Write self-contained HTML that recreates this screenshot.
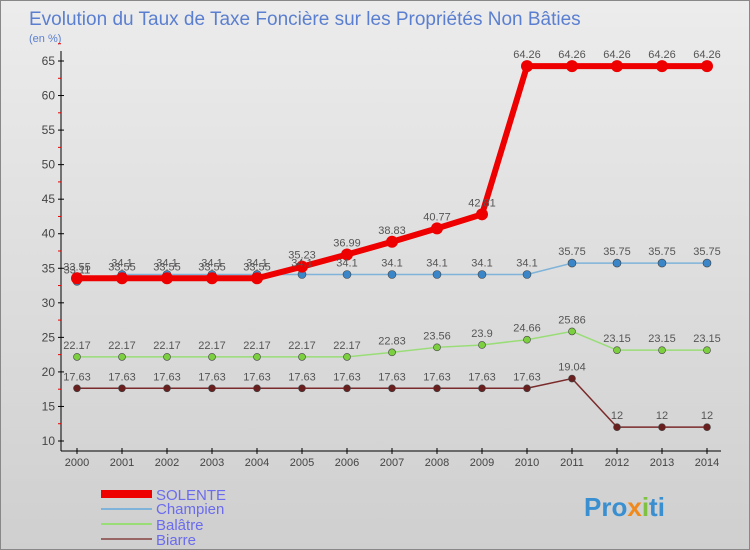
<!DOCTYPE html>
<html><head><meta charset="utf-8"><style>
body{margin:0}
#c{width:750px;height:550px;position:relative;overflow:hidden;background:linear-gradient(#ececec,#cfcfcf);font-family:"Liberation Sans","DejaVu Sans",sans-serif;border:1px solid #888;box-sizing:border-box}
</style></head><body>
<div id="c">
<svg id="s" width="750" height="550" xmlns="http://www.w3.org/2000/svg">
<text x="28" y="24" font-size="19" fill="#5b7fd0">Evolution du Taux de Taxe Foncière sur les Propriétés Non Bâties</text>
<text x="28" y="41" font-size="11" fill="#5b7fd0">(en %)</text>
<line x1="60" y1="50" x2="60" y2="450" stroke="#000"/>
<line x1="60" y1="450" x2="720" y2="450" stroke="#000"/>
<g id="ax"></g><g id="ln"></g><g id="lb"></g>
<g>
<rect x="100" y="489" width="51" height="8" fill="#e00"/>
<text x="155" y="499" font-size="15" fill="#6b6bee">SOLENTE</text>
<rect x="100" y="507" width="51" height="2" fill="#7fb3d9"/>
<text x="155" y="513" font-size="15" fill="#6b6bee">Champien</text>
<rect x="100" y="522" width="51" height="2" fill="#99dd77"/>
<text x="155" y="529" font-size="15" fill="#6b6bee">Balâtre</text>
<rect x="100" y="537" width="51" height="2" fill="#996666"/>
<text x="155" y="544" font-size="15" fill="#6b6bee">Biarre</text>
</g>
<text x="583" y="515" font-size="26" font-weight="bold" fill="#3a8fd0">Pro<tspan fill="#f08a1c">x</tspan><tspan fill="#7fc241">i</tspan>ti</text>
</svg></div>
<script>
const years=[2000,2001,2002,2003,2004,2005,2006,2007,2008,2009,2010,2011,2012,2013,2014];
const yTicks=[10,15,20,25,30,35,40,45,50,55,60,65];
const solente=[33.55,33.55,33.55,33.55,33.55,35.23,36.99,38.83,40.77,42.81,64.26,64.26,64.26,64.26,64.26];
const champien=[33.11,34.1,34.1,34.1,34.1,34.1,34.1,34.1,34.1,34.1,34.1,35.75,35.75,35.75,35.75];
const balatre=[22.17,22.17,22.17,22.17,22.17,22.17,22.17,22.83,23.56,23.9,24.66,25.86,23.15,23.15,23.15];
const biarre=[17.63,17.63,17.63,17.63,17.63,17.63,17.63,17.63,17.63,17.63,17.63,19.04,12,12,12];
const NS="http://www.w3.org/2000/svg";
const X=i=>76+i*45, Y=v=>440-(v-10)*380/55;
function mk(p,t,a){const e=document.createElementNS(NS,t);for(const k in a)e.setAttribute(k,a[k]);p.appendChild(e);return e;}
const ax=document.getElementById('ax'),ln=document.getElementById('ln'),lb=document.getElementById('lb');
yTicks.forEach(v=>{
 const t=mk(ax,'line',{x1:57,x2:63,y1:Y(v),y2:Y(v),stroke:'#000'});
 
 
 const m=mk(ax,'line',{x1:57,x2:60,y1:Y(v+2.5),y2:Y(v+2.5),stroke:'#e00'});
 
 
 const l=mk(ax,'text',{x:54,y:Y(v)+4,'text-anchor':'end','font-size':12,fill:'#444'});l.textContent=v;
 
 
});
years.forEach((y,i)=>{
 const t=mk(ax,'line',{x1:X(i),x2:X(i),y1:447,y2:453,stroke:'#000'});
 
 
 const l=mk(ax,'text',{x:X(i),y:465,'text-anchor':'middle','font-size':11,fill:'#444'});l.textContent=y;
 
 
});
function series(name,d,col,w,r,dot){
 const p=mk(ln,'polyline',{points:d.map((v,i)=>X(i)+','+Y(v)).join(' '),fill:'none',stroke:col,'stroke-width':w});
 
 
 d.forEach((v,i)=>{
  const c=mk(ln,'circle',{cx:X(i),cy:Y(v),r:r,fill:dot,stroke:'#444','stroke-width':r>5?0:0.6});
  
  
  const t=mk(lb,'text',{x:X(i),y:Y(v)-8,'text-anchor':'middle','font-size':11,fill:'#555'});t.textContent=v;
  
  
 });
}
series('biarre',biarre,'#7a2a2a',1.5,3.5,'#6a1f1f');
series('balatre',balatre,'#99dd77',1.5,3.5,'#7cd040');
series('champien',champien,'#7fb3d9',1.5,4,'#3a86c8');
series('solente',solente,'#ee0000',6,6,'#ee0000');
</script>
</body></html>
